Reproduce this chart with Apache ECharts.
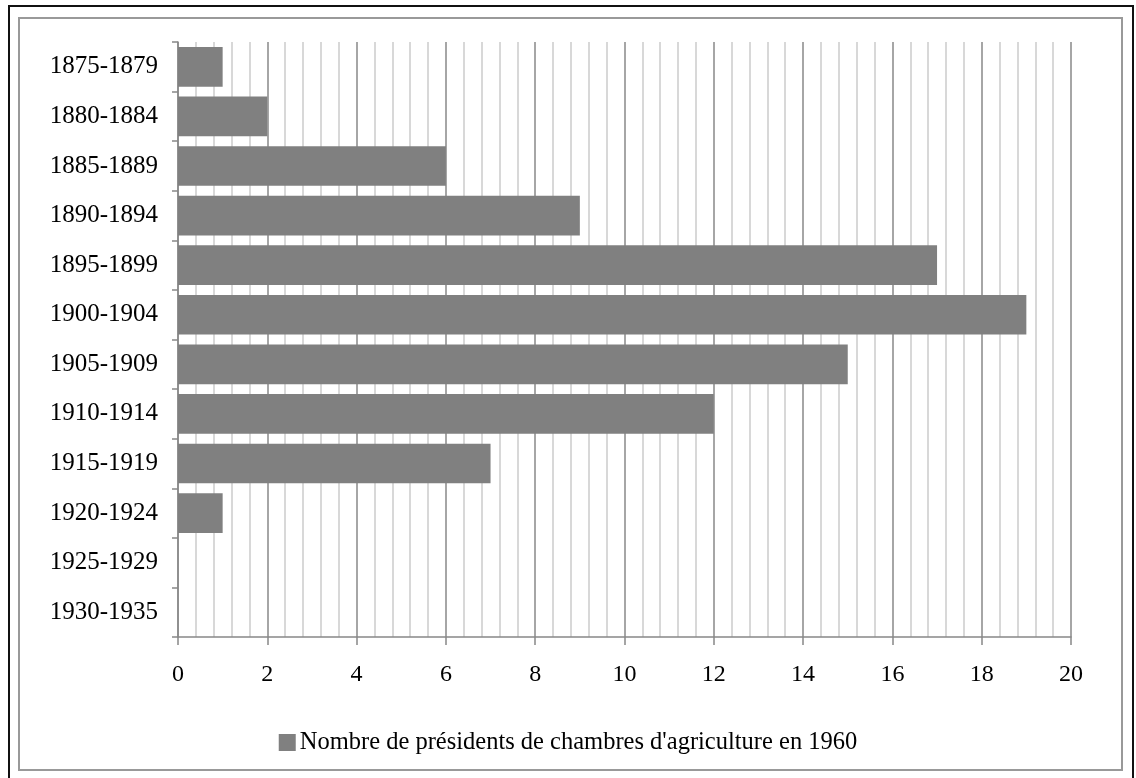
<!DOCTYPE html>
<html><head><meta charset="utf-8">
<script src="https://cdn.jsdelivr.net/npm/echarts@6/dist/echarts.min.js"></script>
<style>html,body{margin:0;padding:0;background:#fff}#c{width:1136px;height:778px}</style>
</head><body><div id="c"></div>
<script>
const categories = ["1875-1879","1880-1884","1885-1889","1890-1894","1895-1899","1900-1904","1905-1909","1910-1914","1915-1919","1920-1924","1925-1929","1930-1935"];
const values = [1,2,6,9,17,19,15,12,7,1,0,0];
const seriesName = "Nombre de présidents de chambres d'agriculture en 1960";
const FONT = "Liberation Serif";
const chart = echarts.init(document.getElementById('c'));
chart.setOption({
  animation:false,
  backgroundColor:'#fff',
  textStyle:{fontFamily:FONT},
  graphic:[
    {type:'rect',shape:{x:9,y:6,width:1124,height:790},style:{fill:'none',stroke:'#111',lineWidth:2},silent:true},
    {type:'rect',shape:{x:19,y:18,width:1103,height:752},style:{fill:'none',stroke:'#999',lineWidth:2},silent:true}
  ],
  grid:{left:178,right:65,top:42,bottom:141,containLabel:false},
  legend:{top:725,left:'center',itemWidth:17,itemHeight:17,itemGap:4,icon:'rect',
    textStyle:{fontFamily:FONT,fontSize:24.5,color:'#000',padding:[0,0,0,-1]},data:[seriesName]},
  xAxis:{type:'value',min:0,max:20,interval:2,
    axisLine:{show:true,lineStyle:{color:'#888',width:1.5}},
    axisTick:{show:true,length:8,lineStyle:{color:'#888',width:1.5}},
    axisLabel:{fontFamily:FONT,fontSize:24,color:'#000',margin:26},
    splitLine:{show:true,lineStyle:{color:'#888',width:1.5}},
    minorTick:{show:false,splitNumber:5},
    minorSplitLine:{show:true,lineStyle:{color:'#ccc',width:1.5}}
  },
  yAxis:{type:'category',data:categories,inverse:true,
    axisLine:{show:true,lineStyle:{color:'#888',width:1.5}},
    axisTick:{show:true,length:6,lineStyle:{color:'#888',width:1.5}},
    axisLabel:{fontFamily:FONT,fontSize:25,color:'#000',margin:20}
  },
  series:[{name:seriesName,type:'bar',data:values,barCategoryGap:'20%',
    itemStyle:{color:'#808080'}}]
});
</script></body></html>
